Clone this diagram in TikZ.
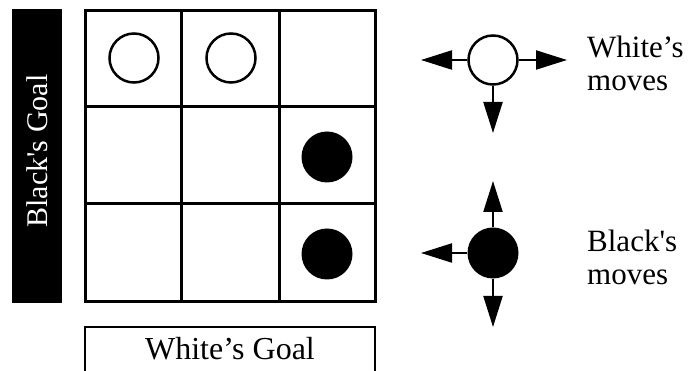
\documentclass[tikz,border=0pt]{standalone}
\usepackage{fontspec}
\setmainfont{Liberation Serif}
\usetikzlibrary{arrows.meta}
\begin{document}
\begin{tikzpicture}[x=1pt,y=-1pt,
  wpiece/.style={circle,draw,line width=2.5pt,fill=white,minimum size=49pt,inner sep=0pt},
  bpiece/.style={circle,fill=black,minimum size=51pt,inner sep=0pt},
  gridline/.style={line width=3pt},
  move/.style={line width=2.2pt,-{Triangle[length=31pt,width=19pt]}},
  lbl/.style={font=\fontsize{31}{33}\selectfont,inner sep=0pt,align=left}
]
\useasboundingbox (0,0) rectangle (689,371);
\clip (0,0) rectangle (689,371);
% Black's goal bar
\node[fill=black,minimum width=50pt,minimum height=294pt,inner sep=0pt] (bgoal) at (37,156) {};
\node[rotate=90,text=white,font=\fontsize{30}{33}\selectfont,inner sep=0pt] (bgoaltext) at (37,151) {Black\textquotesingle s Goal};
% board
\draw[gridline] (85,11) rectangle (375,302);
\draw[gridline] (181,11) -- (181,302);
\draw[gridline] (279,11) -- (279,302);
\draw[gridline] (85,107) -- (375,107);
\draw[gridline] (85,204) -- (375,204);
% pieces
\node[wpiece] (w1) at (134,58) {};
\node[wpiece] (w2) at (231,58) {};
\node[bpiece] (b1) at (327,157) {};
\node[bpiece] (b2) at (327,254) {};
% White's goal
\node[draw,line width=2pt,minimum width=290pt,minimum height=70pt,inner sep=0pt,anchor=north] (wgoal) at (230,326) {};
\node[font=\fontsize{32}{33}\selectfont,inner sep=0pt,anchor=base] (wgoaltext) at (230,360) {White’s Goal};
% White's moves
\node[wpiece] (wm) at (493,60) {};
\coordinate (wl) at (421,60);
\coordinate (wr) at (567,60);
\coordinate (wd) at (493,133);
\draw[move] (wm.west) -- (wl);
\draw[move] (wm.east) -- (wr);
\draw[move] (wm.south) -- (wd);
\node[lbl,anchor=base west] (wlab) at (587,91) {White’s\\moves};
% Black's moves
\node[bpiece] (bm) at (493,253) {};
\coordinate (bl) at (421,253);
\coordinate (bu) at (493,181);
\coordinate (bd) at (493,327);
\draw[move] (bm.west) -- (bl);
\draw[move] (bm.north) -- (bu);
\draw[move] (bm.south) -- (bd);
\node[lbl,anchor=base west] (blab) at (587,285) {Black\textquotesingle s\\moves};
\end{tikzpicture}
\end{document}
